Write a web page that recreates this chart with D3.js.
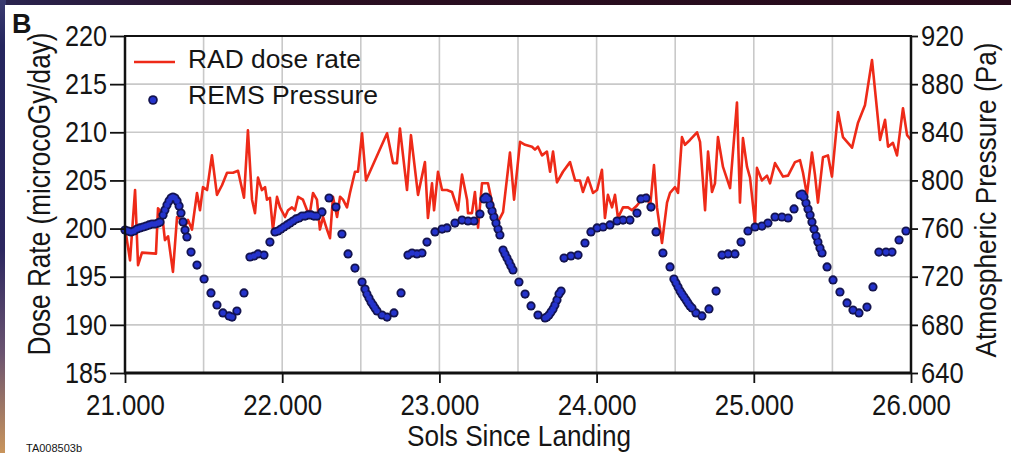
<!DOCTYPE html>
<html>
<head>
<meta charset="utf-8">
<script src="https://cdn.jsdelivr.net/npm/d3@7"></script>
<style>
  html, body { margin: 0; padding: 0; background: #1c0a18; }
  svg { display: block; }
  text { font-family: "Liberation Sans", Arial, Helvetica, sans-serif; fill: #151515; }
</style>
</head>
<body>
<svg id="chart" width="1011" height="453"></svg>
<script>
// RAD dose rate (microGy/day) against sols since landing
const radSols = [21.000,21.032,21.064,21.083,21.108,21.197,21.210,21.235,21.254,21.274,
  21.305,21.331,21.363,21.382,21.401,21.426,21.458,21.477,21.496,21.522,
  21.553,21.585,21.617,21.649,21.687,21.719,21.757,21.782,21.808,21.827,
  21.846,21.871,21.891,21.903,21.922,21.941,21.967,21.986,22.018,22.037,
  22.062,22.081,22.101,22.132,22.158,22.177,22.196,22.221,22.240,22.260,
  22.285,22.304,22.323,22.349,22.368,22.387,22.412,22.431,22.463,22.482,
  22.508,22.533,22.667,22.705,22.730,22.749,22.794,22.819,22.864,22.908,
  22.927,22.953,22.966,22.991,23.017,23.048,23.080,23.118,23.144,23.176,
  23.182,23.207,23.226,23.246,23.271,23.309,23.335,23.373,23.405,23.449,
  23.475,23.513,23.545,23.589,23.608,23.627,23.653,23.684,23.704,23.723,
  23.748,23.786,23.831,23.863,23.894,23.913,23.945,23.977,24.003,24.034,
  24.053,24.072,24.098,24.117,24.136,24.168,24.200,24.225,24.257,24.295,
  24.321,24.340,24.365,24.384,24.416,24.448,24.467,24.499,24.518,24.543,
  24.562,24.594,24.639,24.658,24.690,24.709,24.734,24.753,24.772,24.804,
  24.849,24.893,24.912,24.931,24.957,24.976,25.008,25.020,25.052,25.084,
  25.103,25.135,25.186,25.218,25.262,25.294,25.313,25.338,25.370,25.389,
  25.408,25.440,25.472,25.497,25.536,25.567,25.625,25.663,25.707,25.752,
  25.803,25.835,25.854,25.885,25.911,25.949,25.975,26.000];

const radDose = [200.1,196.7,204.0,196.2,197.5,197.4,202.1,201.6,198.8,199.2,
  195.5,201.2,200.9,200.2,200.9,199.9,203.7,201.9,204.3,204.0,
  207.6,203.5,204.5,205.8,205.8,206.0,203.2,210.2,203.0,201.6,
  205.3,204.0,204.3,203.0,203.2,199.9,203.3,202.2,201.2,201.9,
  202.2,201.9,203.3,203.0,201.9,201.7,203.7,203.0,199.9,201.2,
  199.9,199.0,203.3,201.2,203.3,203.0,202.2,203.7,205.9,205.9,
  209.9,205.0,209.9,206.8,206.8,210.4,204.0,209.7,203.5,206.9,
  201.1,204.7,201.9,205.9,204.0,204.0,203.8,201.9,205.6,203.0,
  201.6,201.6,203.8,200.1,204.7,204.7,202.7,200.7,201.7,207.9,
  203.0,209.0,208.7,208.5,208.2,208.5,207.6,208.0,205.9,208.0,
  204.8,205.9,206.9,205.0,205.0,203.8,205.3,203.7,204.0,206.1,
  201.1,203.5,202.2,203.5,201.1,202.2,202.2,201.9,202.4,203.2,
  203.5,202.2,206.6,202.2,198.5,202.7,203.7,204.3,203.7,209.5,
  208.7,209.2,210.0,209.0,201.9,208.0,203.8,204.7,209.5,206.4,
  204.2,213.1,202.7,209.4,206.4,205.3,200.4,206.3,205.0,205.5,
  204.7,206.8,205.4,205.5,206.9,207.1,205.8,203.5,207.9,205.6,
  202.7,207.4,207.6,205.4,212.1,209.5,208.4,211.0,212.8,217.5,
  209.2,211.3,208.5,208.9,207.6,212.5,209.7,209.2];

// REMS atmospheric pressure (Pa) samples
const remsSols = [21.000,21.019,21.038,21.057,21.076,21.095,21.115,21.134,21.153,21.172,
  21.191,21.210,21.223,21.242,21.254,21.267,21.280,21.293,21.305,21.318,
  21.331,21.344,21.356,21.369,21.382,21.394,21.420,21.458,21.503,21.547,
  21.585,21.623,21.662,21.681,21.712,21.757,21.795,21.821,21.846,21.884,
  21.922,21.954,21.973,21.992,22.011,22.031,22.050,22.069,22.088,22.107,
  22.126,22.145,22.164,22.183,22.202,22.221,22.253,22.298,22.342,22.380,
  22.419,22.463,22.508,22.527,22.539,22.552,22.565,22.578,22.590,22.603,
  22.635,22.667,22.711,22.756,22.800,22.826,22.857,22.889,22.921,22.972,
  23.017,23.048,23.099,23.144,23.182,23.220,23.258,23.284,23.296,23.309,
  23.322,23.335,23.347,23.360,23.373,23.385,23.405,23.417,23.430,23.443,
  23.455,23.468,23.506,23.545,23.583,23.627,23.672,23.684,23.697,23.710,
  23.723,23.735,23.748,23.761,23.774,23.793,23.837,23.882,23.926,23.964,
  24.003,24.041,24.085,24.130,24.168,24.212,24.257,24.282,24.314,24.346,
  24.378,24.422,24.467,24.492,24.505,24.518,24.531,24.543,24.556,24.569,
  24.581,24.594,24.607,24.632,24.670,24.715,24.760,24.798,24.836,24.880,
  24.919,24.963,25.008,25.052,25.090,25.135,25.179,25.218,25.256,25.294,
  25.307,25.319,25.332,25.345,25.358,25.370,25.383,25.396,25.408,25.421,
  25.434,25.466,25.504,25.548,25.593,25.631,25.669,25.720,25.758,25.796,
  25.841,25.879,25.924,25.968];

const remsPressure = [758.8,758.0,757.2,758.0,759.6,760.5,761.3,762.1,763.0,763.8,
  763.8,764.6,765.5,771.3,775.4,779.6,782.9,785.4,786.2,785.4,
  782.9,778.8,772.9,765.5,758.8,753.0,740.5,729.7,718.1,706.5,
  696.5,689.9,687.4,686.5,691.5,706.5,736.4,737.2,738.9,738.0,
  748.8,757.2,758.0,759.6,761.3,763.0,764.6,766.3,768.0,768.8,
  770.4,770.4,771.3,771.3,770.4,770.4,773.8,785.4,777.9,755.5,
  738.9,727.2,715.6,709.8,705.6,702.3,699.0,696.5,694.0,691.5,
  688.2,686.5,689.9,706.5,738.0,739.7,738.9,739.7,748.8,757.2,
  759.6,760.5,764.6,767.1,766.3,766.3,772.1,784.6,786.2,784.6,
  779.6,774.6,769.6,764.6,759.6,754.7,742.2,738.9,735.5,732.2,
  728.9,725.6,715.6,705.6,695.7,688.2,685.7,686.5,688.2,690.7,
  693.2,696.5,700.7,705.6,708.1,735.5,737.2,738.0,748.0,757.2,
  760.5,761.3,763.0,766.3,767.1,767.1,772.9,784.6,785.4,777.9,
  757.2,739.7,728.1,718.1,714.8,711.5,708.1,705.6,703.1,700.7,
  698.2,695.7,694.0,689.9,687.4,693.2,708.1,738.0,738.9,738.9,
  748.8,758.0,761.3,762.1,764.6,769.6,769.6,768.8,776.3,787.9,
  788.7,786.2,781.2,776.3,771.3,765.5,759.6,753.8,748.8,743.9,
  739.7,728.1,717.3,707.3,698.2,692.3,689.9,694.8,711.5,740.5,
  740.5,740.5,750.5,758.0];

// Axis ticks and grid positions
const doseTicks = [185, 190, 195, 200, 205, 210, 215, 220];
const pressureTicks = [640, 680, 720, 760, 800, 840, 880, 920];
const solTicks = [21, 22, 23, 24, 25, 26];
const gridSols = [21, 21.5, 22, 22.5, 23, 23.5, 24, 24.5, 25, 25.5, 26];

const seriesNames = ["RAD dose rate", "REMS Pressure"];
const panelLetter = "B";
const xTitle = "Sols Since Landing";
const yLeftTitle = "Dose Rate (microcoGy/day)";
const yRightTitle = "Atmospheric Pressure (Pa)";
const imageId = "TA008503b";

const W = 1011, H = 453;
const plot = { left: 125, right: 911, top: 36, bottom: 373 };

const svg = d3.select("#chart");

// squeeze text horizontally to the narrow face used in the figure
function squeeze(sel, k) {
  sel.each(function () {
    const w = this.getComputedTextLength();
    d3.select(this).attr("textLength", w * k).attr("lengthAdjust", "spacingAndGlyphs");
  });
}

// ---- dark frame behind the white panel ----
const defs = svg.append("defs");
const lg = defs.append("linearGradient").attr("id", "leftEdge")
  .attr("x1", 0).attr("y1", 0).attr("x2", 0).attr("y2", 1);
lg.append("stop").attr("offset", "0%").attr("stop-color", "#3a3a70");
lg.append("stop").attr("offset", "10%").attr("stop-color", "#25265e");
lg.append("stop").attr("offset", "55%").attr("stop-color", "#2c2760");
lg.append("stop").attr("offset", "78%").attr("stop-color", "#6b5470");
lg.append("stop").attr("offset", "100%").attr("stop-color", "#c9955c");
const tg = defs.append("linearGradient").attr("id", "topEdge")
  .attr("x1", 0).attr("y1", 0).attr("x2", 1).attr("y2", 0);
tg.append("stop").attr("offset", "0%").attr("stop-color", "#2a2450");
tg.append("stop").attr("offset", "25%").attr("stop-color", "#2a0f22");
tg.append("stop").attr("offset", "100%").attr("stop-color", "#260a1a");

svg.append("rect").attr("x", 0).attr("y", 0).attr("width", W).attr("height", H).attr("fill", "url(#topEdge)");
svg.append("rect").attr("x", 0).attr("y", 0).attr("width", 6).attr("height", H).attr("fill", "url(#leftEdge)");
svg.append("rect").attr("x", 5).attr("y", 5).attr("width", W - 5).attr("height", H - 5).attr("fill", "#ffffff");

// ---- scales ----
const x = d3.scaleLinear().domain([21, 26]).range([plot.left, plot.right]);
const yDose = d3.scaleLinear().domain([185, 220]).range([plot.bottom, plot.top]);
const yPres = d3.scaleLinear().domain([640, 920]).range([plot.bottom, plot.top]);

// ---- grid ----
const grid = svg.append("g").attr("stroke", "#c9c9c9").attr("stroke-width", 1.6);
grid.selectAll("line.h").data(doseTicks).join("line").attr("class", "h")
  .attr("x1", plot.left).attr("x2", plot.right)
  .attr("y1", d => yDose(d)).attr("y2", d => yDose(d));
grid.selectAll("line.v").data(gridSols).join("line").attr("class", "v")
  .attr("x1", d => x(d)).attr("x2", d => x(d))
  .attr("y1", plot.top).attr("y2", plot.bottom);

// ---- RAD dose rate line ----
const radData = radSols.map((s, i) => [s, radDose[i]]);
svg.append("path").datum(radData)
  .attr("fill", "none").attr("stroke", "#ee2a18").attr("stroke-width", 2.6)
  .attr("stroke-linejoin", "round")
  .attr("d", d3.line().x(d => x(d[0])).y(d => yDose(d[1])));

// ---- REMS pressure dots (outline layer, then fill layer) ----
const remsData = remsSols.map((s, i) => [s, remsPressure[i]]);
svg.append("g").selectAll("circle").data(remsData).join("circle")
  .attr("cx", d => x(d[0])).attr("cy", d => yPres(d[1]))
  .attr("r", 4.6).attr("fill", "#13134f");
svg.append("g").selectAll("circle").data(remsData).join("circle")
  .attr("cx", d => x(d[0])).attr("cy", d => yPres(d[1]))
  .attr("r", 2.8).attr("fill", "#2433cc");

// ---- axes ----
const fmtSol = d3.format(".3f");

const leftAxis = svg.append("g").attr("transform", `translate(${plot.left},0)`)
  .call(d3.axisLeft(yDose).tickValues(doseTicks).tickSize(15).tickSizeOuter(0).tickPadding(3));
const rightAxis = svg.append("g").attr("transform", `translate(${plot.right},0)`)
  .call(d3.axisRight(yPres).tickValues(pressureTicks).tickSize(7).tickSizeOuter(0).tickPadding(3));
const bottomAxis = svg.append("g").attr("transform", `translate(0,${plot.bottom})`)
  .call(d3.axisBottom(x).tickValues(solTicks).tickFormat(fmtSol).tickSize(10).tickSizeOuter(0));

[leftAxis, rightAxis, bottomAxis].forEach(g => {
  g.select(".domain").remove();
  g.selectAll(".tick line").attr("stroke", "#111").attr("stroke-width", 1.8);
  g.selectAll(".tick text").attr("font-family", null).attr("font-size", null)
    .style("font-size", "29px").attr("fill", "#151515");
});
bottomAxis.selectAll(".tick text").style("font-size", "30px").attr("y", 42).attr("dy", null);
squeeze(leftAxis.selectAll(".tick text"), 0.87);
squeeze(rightAxis.selectAll(".tick text"), 0.88);
squeeze(bottomAxis.selectAll(".tick text"), 0.86);

// frame lines
const frame = svg.append("g").attr("stroke", "#111");
frame.append("line").attr("x1", plot.left - 1).attr("x2", plot.right + 1)
  .attr("y1", plot.top).attr("y2", plot.top).attr("stroke-width", 2);
frame.append("line").attr("x1", plot.left - 1).attr("x2", plot.right + 1)
  .attr("y1", plot.bottom).attr("y2", plot.bottom).attr("stroke-width", 3);
frame.append("line").attr("x1", plot.left).attr("x2", plot.left)
  .attr("y1", plot.top).attr("y2", plot.bottom).attr("stroke-width", 2.5);
frame.append("line").attr("x1", plot.right).attr("x2", plot.right)
  .attr("y1", plot.top).attr("y2", plot.bottom).attr("stroke-width", 2.5);

// ---- titles ----
svg.append("text").attr("x", 12).attr("y", 33)
  .style("font-size", "27px").style("font-weight", "bold").text(panelLetter);

svg.append("text").attr("x", 519).attr("y", 446).attr("text-anchor", "middle")
  .style("font-size", "30px").attr("textLength", 224).attr("lengthAdjust", "spacingAndGlyphs")
  .text(xTitle);

svg.append("text").attr("transform", "translate(50,194) rotate(-90)").attr("text-anchor", "middle")
  .style("font-size", "32px").attr("textLength", 323).attr("lengthAdjust", "spacingAndGlyphs")
  .text(yLeftTitle);

svg.append("text").attr("transform", "translate(996,200) rotate(-90)").attr("text-anchor", "middle")
  .style("font-size", "30px").attr("textLength", 315).attr("lengthAdjust", "spacingAndGlyphs")
  .text(yRightTitle);

svg.append("text").attr("x", 26).attr("y", 452)
  .style("font-size", "11px").attr("fill", "#333").text(imageId);

// ---- legend ----
const legend = svg.append("g");
legend.append("line").attr("x1", 134).attr("x2", 175).attr("y1", 62).attr("y2", 62)
  .attr("stroke", "#ee2a18").attr("stroke-width", 2.6);
legend.append("circle").attr("cx", 153).attr("cy", 100).attr("r", 4.8).attr("fill", "#13134f");
legend.append("circle").attr("cx", 153).attr("cy", 100).attr("r", 3.1).attr("fill", "#2433cc");
legend.append("text").attr("x", 188).attr("y", 68).style("font-size", "25px")
  .attr("textLength", 173).attr("lengthAdjust", "spacingAndGlyphs").text(seriesNames[0]);
legend.append("text").attr("x", 188).attr("y", 104).style("font-size", "25px")
  .attr("textLength", 190).attr("lengthAdjust", "spacingAndGlyphs").text(seriesNames[1]);
</script>
</body>
</html>
